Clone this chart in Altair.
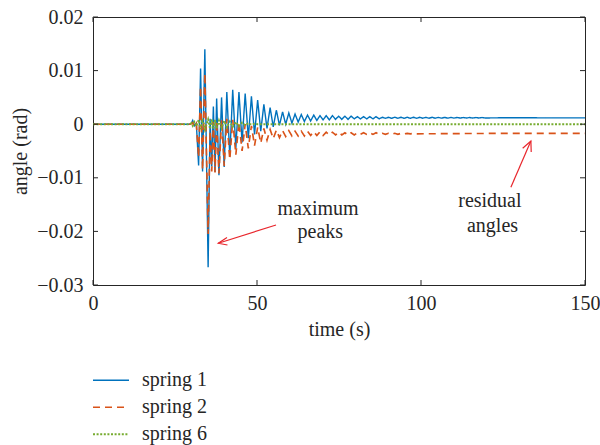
import altair as alt
import pandas as pd

series_names = ["spring 1", "spring 2", "spring 6"]
series_colors = ["#0072BD", "#D95319", "#77AC30"]
series_dash = [[1, 0], [7, 5], [2, 1.6]]
series_width = [1.4, 1.9, 1.6]

t_main = [0, 29.5, 30.0, 30.4, 30.9, 31.5, 32.2, 32.8, 33.4, 34.1, 35.1, 35.7,
          36.2, 36.7, 37.2, 37.7, 38.4, 39.2, 40.0, 40.8, 41.7, 42.6, 43.55, 44.5,
          45.45, 46.4, 47.35, 48.3, 49.25, 50.2, 51.15, 52.1, 53.05, 54.0, 54.95,
          55.9, 56.85, 57.8, 58.75, 59.7, 60.65, 61.6, 62.55, 63.5, 64.45, 65.4,
          66.35, 67.3, 68.25, 69.2, 70.15, 71.1, 72.05, 73.0, 73.95, 74.9, 75.85,
          76.8, 77.75, 78.7, 79.65, 80.6, 81.55, 82.5, 83.45, 84.4, 85.35, 86.3,
          87.25, 88.2, 89.15, 90.1, 91.05, 92.0, 92.95, 93.9, 94.85, 95.8, 96.75,
          97.7, 98.65, 99.6, 100.55, 101.5, 102.45, 103.4, 104.35, 105.3, 106.25,
          107.2, 108.15, 109.1, 110.05, 111.0, 111.95, 112.9, 113.85, 114.8,
          115.75, 116.7, 117.65, 118.6, 119.55, 125.0, 130.0, 140.0, 150.0]

spring1 = [0, 0, 0.0002, 0.0007, -0.0003, 0.0002, -0.0077, 0.0104, -0.0088, 0.0140,
           -0.0267, 0.0010, -0.0079, 0.0033, -0.0089, 0.0048, -0.0095, 0.0050,
           -0.0080, 0.0060, -0.0060, 0.0064, -0.0045, 0.0060, -0.0034, 0.0057,
           -0.0026, 0.0052, -0.0019, 0.0045, -0.0013, 0.0037, -0.0008, 0.0031,
           -0.0005, 0.0026, -0.0002, 0.0023, 0.0000, 0.0021, 0.0002, 0.0019,
           0.0004, 0.0018, 0.0005, 0.0017, 0.0006, 0.0017, 0.0007, 0.0016, 0.0008,
           0.0016, 0.0008, 0.0016, 0.0009, 0.0015, 0.0009, 0.0015, 0.0009, 0.0015,
           0.0010, 0.0014, 0.0010, 0.0014, 0.0010, 0.0014, 0.0010, 0.0014, 0.0010,
           0.0013, 0.0011, 0.0013, 0.0011, 0.0013, 0.0011, 0.0013, 0.0011, 0.0013,
           0.0011, 0.0013, 0.0011, 0.00128, 0.00112, 0.00128, 0.00112, 0.00128,
           0.00112, 0.00127, 0.00113, 0.00127, 0.00113, 0.00126, 0.00114, 0.00126,
           0.00114, 0.00125, 0.00115, 0.00125, 0.00115, 0.00124, 0.00116, 0.00124,
           0.00116, 0.0012, 0.0012, 0.00118, 0.00118]

t_spring2 = t_main[:81] + [110.0, 130.0, 150.0]
spring2 = [0, 0, 0.0001, 0.0003, -0.0005, 0.0001, -0.0062, 0.0070, -0.0085, 0.0095,
           -0.0205, -0.0012, -0.0088, 0.0004, -0.0090, 0.0006, -0.0092, 0.0008,
           -0.0078, 0.0010, -0.0066, 0.0008, -0.0057, 0.0004, -0.0050, 0.0000,
           -0.0045, -0.0003, -0.0040, -0.0006, -0.0035, -0.0008, -0.0030, -0.0010,
           -0.0027, -0.0011, -0.0025, -0.0012, -0.0023, -0.0012, -0.0022, -0.0013,
           -0.0022, -0.0013, -0.0022, -0.0013, -0.0021, -0.0014, -0.0021, -0.0014,
           -0.0021, -0.0015, -0.0020, -0.0015, -0.0020, -0.0015, -0.0020, -0.0016,
           -0.0020, -0.0016, -0.0020, -0.0016, -0.0019, -0.0016, -0.0019, -0.0016,
           -0.0019, -0.0016, -0.0019, -0.0017, -0.0019, -0.0017, -0.0019, -0.0017,
           -0.0019, -0.0017, -0.0018, -0.0017, -0.0018, -0.0017, -0.0018,
           -0.00175, -0.0017, -0.0017]

t_spring6 = [0, 29.5, 30.0, 30.4, 30.9, 31.5, 32.2, 32.8, 33.4, 34.1, 35.1, 35.7,
             36.2, 36.7, 37.2, 37.7, 38.4, 39.2, 40.0, 40.8, 41.7, 42.6, 43.55,
             44.5, 45.45, 46.4, 47.35, 48.3, 49.25, 50.2, 150.0]
spring6 = [0, 0, 0.0002, -0.0003, 0.0004, -0.0004, 0.0008, -0.0009, 0.0010, -0.0010,
           0.0009, -0.0009, 0.0009, -0.0008, 0.0008, -0.0008, 0.0007, -0.0007,
           0.0006, -0.0006, 0.0005, -0.0005, 0.0004, -0.0004, 0.0003, -0.0002,
           0.0002, -0.0001, 0.0001, 0, 0]

x_ticks = [0, 50, 100, 150]
y_ticks = [-0.03, -0.02, -0.01, 0, 0.01, 0.02]

ann_text = ["maximum", "peaks", "residual", "angles"]
ann_t = [68.6, 69.3, 121.0, 121.8]
ann_v = [-0.01694, -0.02129, -0.0155, -0.02006]

arrow_group = ["a1s", "a1s", "a1h", "a1h", "a1h", "a2s", "a2s", "a2h", "a2h", "a2h"]
arrow_t = [55.8, 38.2, 40.85, 38.2, 41.0, 127.4, 133.5, 131.0, 133.5, 133.6]
arrow_v = [-0.01881, -0.02222, -0.02116, -0.02222, -0.02254,
           -0.01175, -0.00313, -0.00450, -0.00313, -0.00519]

rows = []
for name, ts, vs in [("spring 1", t_main, spring1),
                     ("spring 2", t_spring2, spring2),
                     ("spring 6", t_spring6, spring6)]:
    for t, v in zip(ts, vs, strict=True):
        rows.append({"t": t, "v": v, "series": name})
df = pd.DataFrame(rows)

ann_df = pd.DataFrame({"t": ann_t, "v": ann_v, "label": ann_text})
arrow_df = pd.DataFrame({"t": arrow_t, "v": arrow_v, "g": arrow_group,
                         "k": list(range(len(arrow_t)))})
xt_df = pd.DataFrame({"t": x_ticks})
yt_df = pd.DataFrame({"v": y_ticks})

FONT = "Liberation Serif"
FS = 20
INK = "#262626"
xs = alt.Scale(domain=[0, 150], nice=False, zero=False)
ys = alt.Scale(domain=[-0.03, 0.02], nice=False, zero=False)

x_axis = alt.Axis(values=x_ticks, title="time (s)", labelPadding=8, titlePadding=6,
                  labelFlush=False, grid=False, domain=False, ticks=False,
                  labelFont=FONT, titleFont=FONT, labelFontSize=FS, titleFontSize=FS,
                  labelColor=INK, titleColor=INK, titleFontWeight="normal")
y_axis = alt.Axis(values=y_ticks, format="~g", title="angle (rad)", labelPadding=10,
                  titlePadding=6, labelFlush=False, grid=False, domain=False, ticks=False,
                  labelFont=FONT, titleFont=FONT, labelFontSize=FS, titleFontSize=FS,
                  labelColor=INK, titleColor=INK, titleFontWeight="normal")


def X():
    return alt.X("t:Q", scale=xs, axis=x_axis, title="time (s)")


def Y():
    return alt.Y("v:Q", scale=ys, axis=y_axis, title="angle (rad)")


legend = alt.Legend(
    title=None, orient="none", legendX=-1, legendY=350, direction="vertical",
    symbolType="stroke", symbolSize=1296, symbolStrokeWidth=1.5, clipHeight=26.5,
    labelFont=FONT, labelFontSize=FS, labelColor=INK, labelOffset=12,
    padding=0, rowPadding=0,
)

lines = alt.Chart(df).mark_line().encode(
    x=X(), y=Y(),
    color=alt.Color("series:N", scale=alt.Scale(domain=series_names, range=series_colors),
                    legend=legend),
    strokeDash=alt.StrokeDash("series:N", scale=alt.Scale(domain=series_names, range=series_dash),
                              legend=legend),
    strokeWidth=alt.StrokeWidth("series:N", scale=alt.Scale(domain=series_names, range=series_width),
                                legend=None),
)

tick_bottom = alt.Chart(xt_df).mark_rule(color=INK, strokeWidth=1).encode(
    x=X(), y=alt.value(268), y2=alt.value(263))
tick_top = alt.Chart(xt_df).mark_rule(color=INK, strokeWidth=1).encode(
    x=X(), y=alt.value(0), y2=alt.value(5))
tick_left = alt.Chart(yt_df).mark_rule(color=INK, strokeWidth=1).encode(
    y=Y(), x=alt.value(0), x2=alt.value(5))
tick_right = alt.Chart(yt_df).mark_rule(color=INK, strokeWidth=1).encode(
    y=Y(), x=alt.value(492), x2=alt.value(487))

arrows = alt.Chart(arrow_df).mark_line(color="#E8262C", strokeWidth=1.2).encode(
    x=X(), y=Y(), detail="g:N", order="k:Q")

texts = alt.Chart(ann_df).mark_text(font=FONT, fontSize=FS, color=INK,
                                    align="center", baseline="alphabetic").encode(
    x=X(), y=Y(), text="label:N")

chart = alt.layer(lines, tick_bottom, tick_top, tick_left, tick_right, arrows, texts).properties(
    width=492, height=268,
    autosize=alt.AutoSizeParams(type="none"),
    padding={"left": 93, "top": 17, "right": 15, "bottom": 160},
    background="white",
).configure_view(stroke=INK, strokeWidth=1)

chart.save("out.html", embed_options={"renderer": "svg", "actions": False})
